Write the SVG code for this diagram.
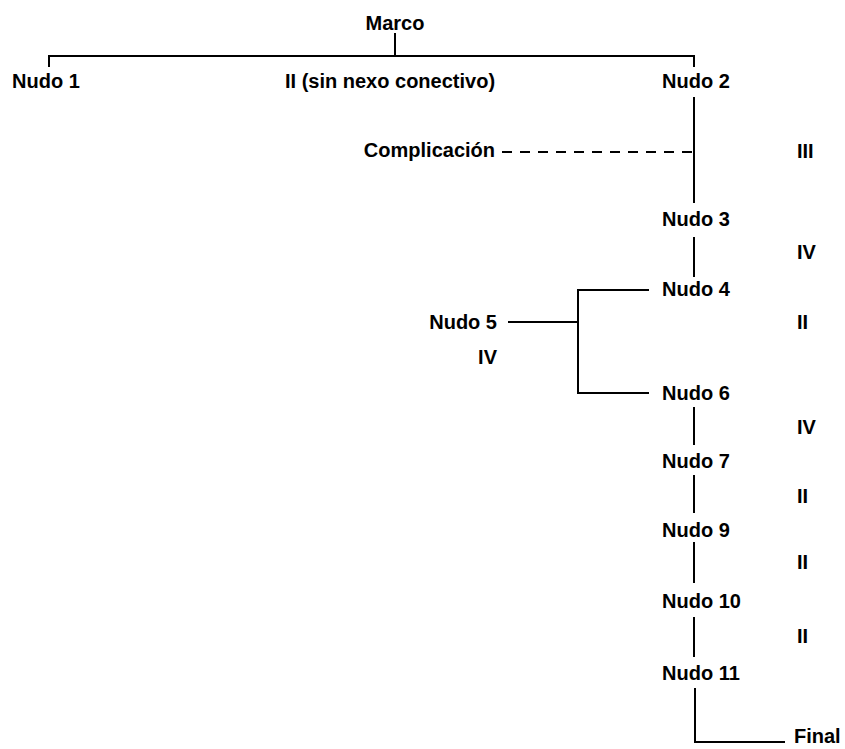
<svg xmlns="http://www.w3.org/2000/svg" width="845" height="749" viewBox="0 0 845 749">
<style>
text{font-family:"Liberation Sans",Arial,sans-serif;font-weight:bold;font-size:20px;fill:#000}
.c{fill:none;stroke:#000;stroke-width:2}
.d{stroke-dasharray:10 8}
.e{text-anchor:end}
.m{text-anchor:middle}
</style>
<rect width="845" height="749" fill="#fff"/>
<g id="connectors">
<path class="c" d="M395,33 V56"/>
<path class="c" d="M49,67 V56 H694 V67"/>
<path class="c" d="M694,97 V203"/>
<path class="c d" d="M502,152 H694"/>
<path class="c" d="M694,237 V277"/>
<path class="c" d="M649,290 H578 V393 H649"/>
<path class="c" d="M508,322 H578"/>
<path class="c" d="M694,407 V445"/>
<path class="c" d="M694,475 V513"/>
<path class="c" d="M694,542 V583"/>
<path class="c" d="M694,617 V657"/>
<path class="c" d="M695,688 V742 H785"/>
</g>
<g id="marco"><text class="m" x="395" y="30">Marco</text></g>
<g id="nudo1"><text x="12" y="88">Nudo 1</text></g>
<g id="label-ii-top"><text x="285" y="88">II (sin nexo conectivo)</text></g>
<g id="nudo2"><text x="662" y="88">Nudo 2</text></g>
<g id="complicacion"><text class="e" x="495" y="157">Complicación</text></g>
<g id="label-iii"><text x="797" y="158">III</text></g>
<g id="nudo3"><text x="662" y="226">Nudo 3</text></g>
<g id="label-iv-1"><text x="797" y="259">IV</text></g>
<g id="nudo4"><text x="662" y="296">Nudo 4</text></g>
<g id="nudo5"><text class="e" x="497" y="329">Nudo 5</text></g>
<g id="label-iv-5"><text class="e" x="497" y="364">IV</text></g>
<g id="label-ii-1"><text x="797" y="329">II</text></g>
<g id="nudo6"><text x="662" y="400">Nudo 6</text></g>
<g id="label-iv-2"><text x="797" y="434">IV</text></g>
<g id="nudo7"><text x="662" y="468">Nudo 7</text></g>
<g id="label-ii-2"><text x="797" y="503">II</text></g>
<g id="nudo9"><text x="662" y="537">Nudo 9</text></g>
<g id="label-ii-3"><text x="797" y="569">II</text></g>
<g id="nudo10"><text x="662" y="608">Nudo 10</text></g>
<g id="label-ii-4"><text x="797" y="643">II</text></g>
<g id="nudo11"><text x="662" y="680">Nudo 11</text></g>
<g id="final"><text x="794" y="743">Final</text></g>
</svg>
